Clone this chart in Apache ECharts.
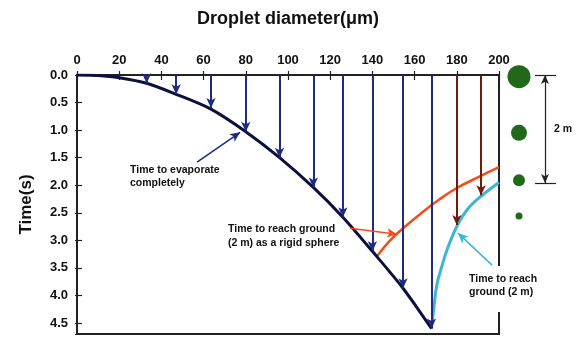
<!DOCTYPE html>
<html><head><meta charset="utf-8">
<script src="https://cdn.jsdelivr.net/npm/echarts@6/dist/echarts.min.js"></script>
<style>html,body{margin:0;padding:0;background:#fff}#c{width:576px;height:354px}</style>
</head><body><div id="c"></div>
<script>
// ---- data ----
const xTickStep = 20;            // droplet diameter ticks 0..200
const yTickLabels = ['0.0','0.5','1.0','1.5','2.0','2.5','3.0','3.5','4.0','4.5'];

// time to evaporate completely (navy curve)
const evapDiam = [0, 10, 20, 33, 47, 63.5, 80, 96, 112, 126, 140, 154.5, 168];
const evapTime = [0, 0.01, 0.05, 0.15, 0.35, 0.62, 1.03, 1.5, 2.04, 2.58, 3.2, 3.87, 4.6];
// time to reach ground (2 m) as a rigid sphere (orange)
const rigidDiam = [142, 148, 154, 164, 172, 180, 191.5, 200];
const rigidTime = [3.3, 3.02, 2.8, 2.48, 2.25, 2.05, 1.83, 1.67];
// time to reach ground (2 m) (light blue)
const groundDiam = [168, 168.6, 169.2, 170.6, 173, 175.3, 180, 185, 191.5, 200];
const groundTime = [4.6, 4.4, 4.2, 3.8, 3.46, 3.18, 2.75, 2.44, 2.2, 1.95];
// vertical arrows: droplets that evaporate (navy) / reach the ground (brown)
const navyArrowDiam = [33, 47, 63.5, 80, 96, 112, 126, 140, 154.5, 168];
const navyArrowEnd  = [0.15, 0.35, 0.6, 1.03, 1.5, 2.04, 2.58, 3.2, 3.87, 4.6];
const brownArrowDiam = [180, 191.5];
const brownArrowEnd  = [2.72, 2.18];
// falling droplet icons at the right (time position, icon size)
const dropletTime = [0.03, 1.05, 1.91, 2.56];
const dropletSize = [23, 16, 12, 7];
const fallHeightTime = 1.96; // extent of the "2 m" bracket

const NAVY = '#1f2a80', CURVE = '#0d103c', BROWN = '#6e1c0c', ORANGE = '#f04e1a', CYAN = '#3db5d4', GREEN = '#22681a';
const FONT = 'Liberation Sans, Arial, sans-serif';

const pts = (xs, ys) => xs.map((x, i) => [x, ys[i]]);
const arrowLine = (x0, y0, x1, y1, color, width) => [
  { coord: [x0, y0], lineStyle: { color: color, width: width, type: 'solid' } },
  { coord: [x1, y1] }
];
const baseMark = {
  silent: true, animation: false, label: { show: false },
  symbol: ['none', 'arrow'], symbolSize: [7, 10],
  emphasis: { disabled: true }
};

const chart = echarts.init(document.getElementById('c'));
chart.setOption({
  animation: false,
  textStyle: { fontFamily: FONT },
  grid: [
    { left: 77, right: 77, top: 75, bottom: 20, show: true, borderColor: '#222', borderWidth: 2, containLabel: false },
    { left: 505, right: 0, top: 75, bottom: 20, show: false }
  ],
  xAxis: [
    { gridIndex: 0, type: 'value', position: 'top', min: 0, max: 200, interval: xTickStep,
      axisLine: { onZero: false, lineStyle: { color: '#222', width: 2 } },
      axisTick: { inside: true, length: 5, lineStyle: { color: '#222', width: 1.2 } },
      axisLabel: { color: '#111', fontWeight: 'bold', fontSize: 13, margin: 8, fontFamily: FONT },
      splitLine: { show: false } },
    { gridIndex: 0, type: 'value', position: 'top', min: 0, max: 200, interval: xTickStep,
      axisLine: { show: false }, axisLabel: { show: false }, splitLine: { show: false },
      axisTick: { inside: false, length: 4, lineStyle: { color: '#222', width: 1.2 } } },
    { gridIndex: 1, type: 'value', min: 0, max: 71, show: false }
  ],
  yAxis: [
    { gridIndex: 0, type: 'value', inverse: true, min: 0, max: 4.7, interval: 0.5,
      name: 'Time(s)', nameLocation: 'middle', nameGap: 42, nameRotate: 90,
      nameTextStyle: { color: '#111', fontWeight: 'bold', fontSize: 17, fontFamily: FONT },
      axisLine: { onZero: false, lineStyle: { color: '#222', width: 2 } },
      axisTick: { inside: true, length: 5, lineStyle: { color: '#222', width: 1.2 } },
      axisLabel: { color: '#111', fontWeight: 'bold', fontSize: 13, margin: 9, fontFamily: FONT,
        showMaxLabel: false,
        formatter: v => yTickLabels[Math.round(v / 0.5)] || '' },
      splitLine: { show: false } },
    { gridIndex: 0, type: 'value', inverse: true, min: 0, max: 4.7, interval: 0.5, position: 'left',
      axisLine: { show: false }, axisLabel: { show: false }, splitLine: { show: false },
      axisTick: { inside: false, length: 2, lineStyle: { color: '#222', width: 1.2 } } },
    { gridIndex: 1, type: 'value', inverse: true, min: 0, max: 4.7, show: false }
  ],
  series: [
    { type: 'line', name: 'evaporate', xAxisIndex: 0, yAxisIndex: 0, data: pts(evapDiam, evapTime),
      smooth: 0.3, showSymbol: false, symbol: 'none', lineStyle: { color: CURVE, width: 3 }, z: 3,
      markLine: Object.assign({}, baseMark, {
        data: navyArrowDiam.map((d, i) => arrowLine(d, 0, d, navyArrowEnd[i], NAVY, 2))
          .concat([arrowLine(56.9, 1.58, 77.3, 1.04, NAVY, 1.5)])
      }) },
    { type: 'line', name: 'rigid', xAxisIndex: 0, yAxisIndex: 0, data: pts(rigidDiam, rigidTime),
      smooth: 0.4, showSymbol: false, symbol: 'none', lineStyle: { color: ORANGE, width: 2.5 }, z: 2,
      markLine: Object.assign({}, baseMark, {
        data: [arrowLine(129.4, 2.78, 151.7, 2.89, ORANGE, 1.5)]
      }) },
    { type: 'line', name: 'ground', xAxisIndex: 0, yAxisIndex: 0, data: pts(groundDiam, groundTime),
      smooth: 0.4, showSymbol: false, symbol: 'none', lineStyle: { color: CYAN, width: 3 }, z: 2,
      markLine: Object.assign({}, baseMark, {
        data: brownArrowDiam.map((d, i) => arrowLine(d, 0, d, brownArrowEnd[i], BROWN, 2))
          .concat([arrowLine(196.7, 3.45, 180.6, 2.87, CYAN, 1.5)])
      }) },
    { type: 'scatter', name: 'droplets', xAxisIndex: 2, yAxisIndex: 2, clip: false,
      data: dropletTime.map((t, i) => ({ value: [14, t], symbolSize: dropletSize[i] })),
      itemStyle: { color: GREEN, opacity: 1 }, silent: true,
      markLine: Object.assign({}, baseMark, {
        symbol: ['arrow', 'arrow'], symbolSize: [6, 9],
        data: [
          arrowLine(40, 0, 40, fallHeightTime, '#222', 1.2),
          [{ coord: [30, 0], symbol: 'none', lineStyle: { color: '#222', width: 1.2, type: 'solid' } }, { coord: [51, 0], symbol: 'none' }],
          [{ coord: [30, fallHeightTime], symbol: 'none', lineStyle: { color: '#222', width: 1.2, type: 'solid' } }, { coord: [51, fallHeightTime], symbol: 'none' }]
        ]
      }) }
  ],
  graphic: [
    { type: 'text', x: 288, y: 19, z: 50, silent: true,
      style: { text: 'Droplet diameter(\u03bcm)', fill: '#111', font: 'bold 18px ' + FONT, textAlign: 'center', textVerticalAlign: 'middle' } },
    { type: 'text', x: 130, y: 164, z: 50, silent: true,
      style: { text: 'Time to evaporate\ncompletely', fill: '#111', font: 'bold 10.5px ' + FONT, lineHeight: 13 } },
    { type: 'text', x: 228, y: 222, z: 50, silent: true,
      style: { text: 'Time to reach ground\n(2 m) as a rigid sphere', fill: '#111', font: 'bold 10.5px ' + FONT, lineHeight: 14 } },
    { type: 'rect', z: 40, silent: true, shape: { x: 494, y: 266, width: 10, height: 46 }, style: { fill: '#fff' } },
    { type: 'text', x: 469, y: 273, z: 50, silent: true,
      style: { text: 'Time to reach\nground (2 m)', fill: '#111', font: 'bold 10.5px ' + FONT, lineHeight: 13 } },
    { type: 'text', x: 563, y: 129, z: 50, silent: true,
      style: { text: '2 m', fill: '#111', font: 'bold 10.5px ' + FONT, textAlign: 'center', textVerticalAlign: 'middle' } }
  ]
});
</script></body></html>
